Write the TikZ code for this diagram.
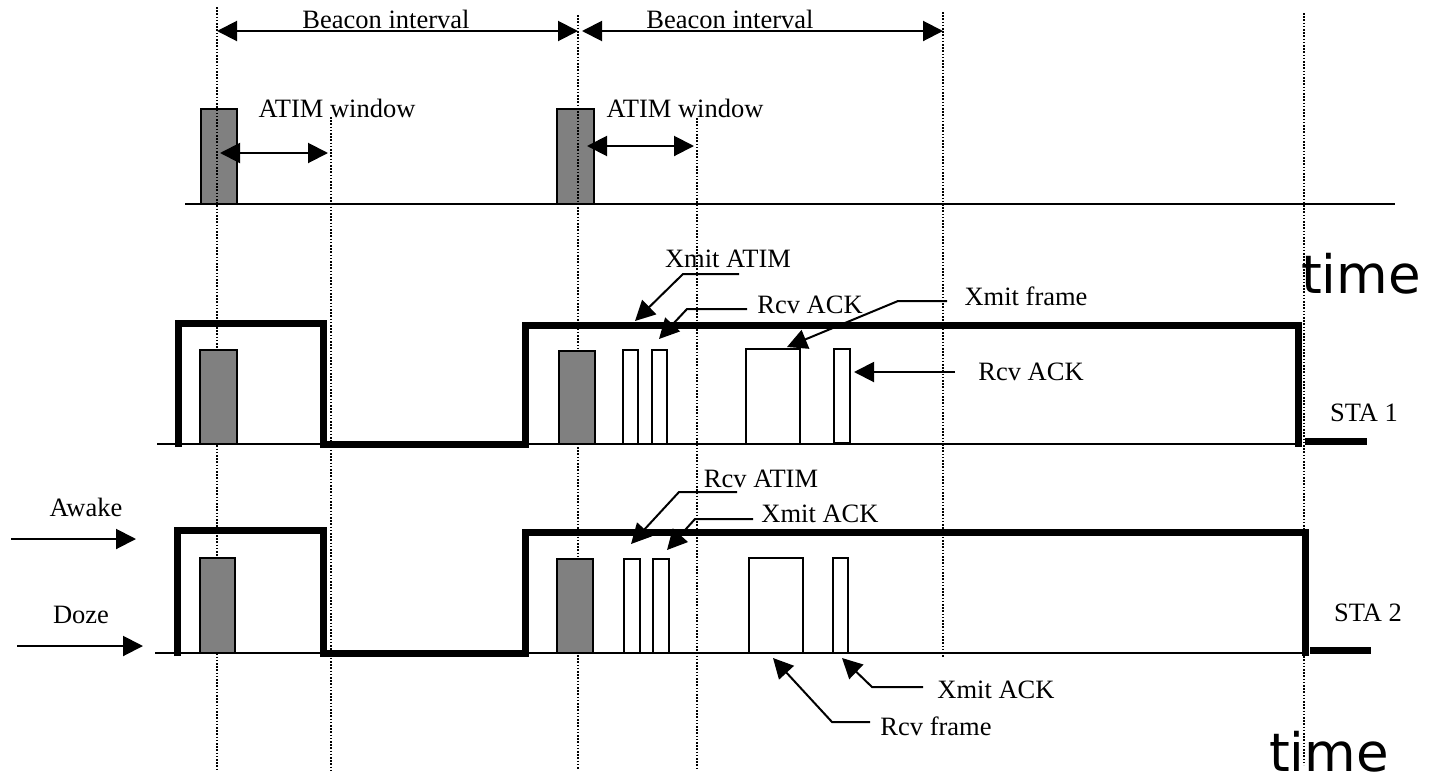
\documentclass[tikz,border=0pt]{standalone}
\usepackage{fontspec}
\setmainfont{Liberation Serif}
\newfontfamily\timefont{DejaVu Sans}
\usetikzlibrary{arrows.meta}
\definecolor{boxgray}{RGB}{128,128,128}
\begin{document}
\begin{tikzpicture}[x=1pt,y=-1pt,
  lbl/.style={inner sep=0pt, anchor=base, font=\fontsize{26.5}{30}\selectfont},
  tlbl/.style={inner sep=0pt, anchor=base, font=\timefont\fontsize{53}{60}\selectfont},
  dotv/.style={line width=1.6pt, dash pattern=on 1.6pt off 1.6pt},
  baseln/.style={line width=2pt},
  sig/.style={line width=7pt, line join=miter},
  gbox/.style={draw=black, line width=1.8pt, fill=boxgray},
  wbox/.style={draw=black, line width=1.8pt, fill=white},
  arr/.style={line width=2pt, -{Triangle[length=20pt,width=20pt]}},
  darr/.style={line width=2pt, {Triangle[length=20pt,width=20pt]}-{Triangle[length=20pt,width=20pt]}},
]
\useasboundingbox (0,0) rectangle (1437,777);
\fill[white] (0,0) rectangle (1437,777);

% top row baseline and beacon boxes
\draw[baseln] (185,204) -- (1395,204);
\draw[gbox] (201,109) rectangle (237,204);
\draw[gbox] (557,109) rectangle (594,204);

% dotted verticals
\coordinate (d1t) at (217,7);   \coordinate (d1b) at (217,770);
\coordinate (d2t) at (331,117); \coordinate (d2b) at (331,770);
\coordinate (d3t) at (578,15);  \coordinate (d3b) at (578,770);
\coordinate (d4t) at (697,118); \coordinate (d4b) at (697,770);
\coordinate (d5t) at (943,12);  \coordinate (d5b) at (943,658);
\coordinate (d6t) at (1304,13); \coordinate (d6b) at (1304,765);
\foreach \i in {1,...,6} \draw[dotv] (d\i t) -- (d\i b);

% beacon interval arrows
\coordinate (b1l) at (217,31); \coordinate (b1r) at (578,31);
\coordinate (b2l) at (582,31); \coordinate (b2r) at (943,31);
\draw[darr] (b1l) -- (b1r);
\draw[darr] (b2l) -- (b2r);
\node[lbl] (bi1) at (386,28) {Beacon interval};
\node[lbl] (bi2) at (730,28) {Beacon interval};

% ATIM window arrows
\coordinate (a1l) at (220,153); \coordinate (a1r) at (328,153);
\coordinate (a2l) at (587,146); \coordinate (a2r) at (694,146);
\draw[darr] (a1l) -- (a1r);
\draw[darr] (a2l) -- (a2r);
\node[lbl] (aw1) at (337,117) {ATIM window};
\node[lbl] (aw2) at (685,117) {ATIM window};

% STA 1 row
\draw[baseln] (157,444) -- (1300,444);
\draw[gbox] (200,350) rectangle (237,444);
\draw[gbox] (559,351) rectangle (595,444);
\draw[wbox] (623,350) rectangle (638,444);
\draw[wbox] (652,350) rectangle (667,444);
\draw[wbox] (746,349) rectangle (800,444);
\draw[wbox] (834,349) rectangle (850,443);
\draw[sig] (178,447) -- (178,323) -- (323,323) -- (323,444) -- (525,444)
  -- (525,325) -- (1298,325) -- (1298,447);
\draw[sig] (1305,441) -- (1367,441);

% STA 2 row
\draw[baseln] (155,653) -- (1305,653);
\draw[gbox] (200,558) rectangle (235,653);
\draw[gbox] (557,559) rectangle (593,653);
\draw[wbox] (624,559) rectangle (640,653);
\draw[wbox] (653,559) rectangle (669,653);
\draw[wbox] (749,558) rectangle (803,653);
\draw[wbox] (833,558) rectangle (848,653);
\draw[sig] (177,656) -- (177,530) -- (323,530) -- (323,653) -- (525,653)
  -- (525,532) -- (1305,532) -- (1305,656);
\draw[sig] (1310,650) -- (1371,650);

% STA 1 annotations
\node[lbl] (xatim) at (728,267) {Xmit ATIM};
\coordinate (xatimA) at (739,274); \coordinate (xatimB) at (683,274); \coordinate (xatimT) at (635,321);
\draw[arr] (xatimA) -- (xatimB) -- (xatimT);

\node[lbl] (rack1) at (810,313) {Rcv ACK};
\coordinate (rack1A) at (747,309); \coordinate (rack1B) at (687,309); \coordinate (rack1T) at (659,339);
\draw[arr] (rack1A) -- (rack1B) -- (rack1T);

\node[lbl] (xframe) at (1026,305) {Xmit frame};
\coordinate (xframeA) at (947,301); \coordinate (xframeB) at (898,301); \coordinate (xframeT) at (787,347);
\draw[arr] (xframeA) -- (xframeB) -- (xframeT);

\node[lbl] (rack2) at (1031,380) {Rcv ACK};
\coordinate (rack2A) at (955,372); \coordinate (rack2T) at (854,372);
\draw[arr] (rack2A) -- (rack2T);

\node[lbl] (sta1) at (1364,421) {STA 1};
\node[tlbl] (time1) at (1361,293) {time};

% STA 2 annotations
\node[lbl] (ratim) at (761,487) {Rcv ATIM};
\coordinate (ratimA) at (737,492); \coordinate (ratimB) at (679,492); \coordinate (ratimT) at (631,544);
\draw[arr] (ratimA) -- (ratimB) -- (ratimT);

\node[lbl] (xack1) at (820,522) {Xmit ACK};
\coordinate (xack1A) at (753,519); \coordinate (xack1B) at (695,519); \coordinate (xack1T) at (667,550);
\draw[arr] (xack1A) -- (xack1B) -- (xack1T);

\node[lbl] (rframe) at (936,735) {Rcv frame};
\coordinate (rframeA) at (870,722); \coordinate (rframeB) at (832,722); \coordinate (rframeT) at (773,658);
\draw[arr] (rframeA) -- (rframeB) -- (rframeT);

\node[lbl] (xack2) at (996,698) {Xmit ACK};
\coordinate (xack2A) at (923,687); \coordinate (xack2B) at (872,687); \coordinate (xack2T) at (842,658);
\draw[arr] (xack2A) -- (xack2B) -- (xack2T);

\node[lbl] (sta2) at (1368,621) {STA 2};
\node[tlbl] (time2) at (1329,771) {time};

% Awake / Doze
\node[lbl] (awake) at (86,516) {Awake};
\coordinate (awA) at (11,539); \coordinate (awT) at (136,539);
\draw[arr] (awA) -- (awT);
\node[lbl] (doze) at (81,623) {Doze};
\coordinate (dzA) at (17,646); \coordinate (dzT) at (143,646);
\draw[arr] (dzA) -- (dzT);
\end{tikzpicture}
\end{document}
